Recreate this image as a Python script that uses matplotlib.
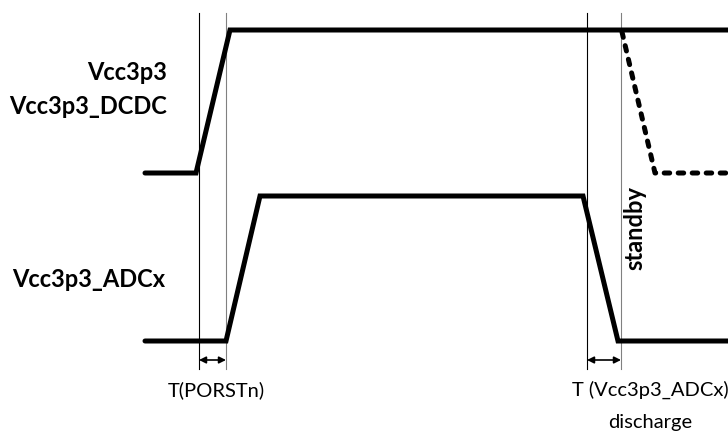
import matplotlib.pyplot as plt

# timing diagram, values in picture units (x to the right, y downwards)
dcdc_x = [145, 196, 230, 728]
dcdc_y = [174, 174, 31, 31]
standby_x = [622, 655, 728]
standby_y = [33, 174, 174]
adc_x = [145, 226, 260, 583, 618, 728]
adc_y = [342, 342, 197, 197, 342, 342]
markers_x = [199, 226, 587, 621]
marker_colors = ['black', 'gray', 'black', 'gray']
arrow_spans = [(199, 226), (587, 621)]

plt.rcParams['font.family'] = ['Lato', 'DejaVu Sans']
fig = plt.figure(figsize=(7.28, 4.39), dpi=100)
ax = fig.add_axes([0, 0, 1, 1])
ax.set_xlim(0, 728)
ax.set_ylim(439, 0)
ax.axis('off')

for x, c in zip(markers_x, marker_colors):
    ax.plot([x, x], [14, 370], color=c, lw=0.8)

ax.plot(dcdc_x, dcdc_y, color='black', lw=3.6, solid_joinstyle='miter', solid_capstyle='round')
ax.plot(adc_x, adc_y, color='black', lw=3.6, solid_joinstyle='miter', solid_capstyle='round')
ax.plot(standby_x, standby_y, color='black', lw=3.6, ls=(0, (1.1, 1.7)),
        dash_capstyle='round', dash_joinstyle='round')

for x0, x1 in arrow_spans:
    ax.annotate('', xy=(x0, 361), xytext=(x1, 361),
                arrowprops=dict(arrowstyle='<|-|>', color='black', lw=1.2,
                                shrinkA=0, shrinkB=0, mutation_scale=10))

ax.text(167, 73, 'Vcc3p3', ha='right', va='center', fontsize=17, fontweight='bold')
ax.text(167, 107, 'Vcc3p3_DCDC', ha='right', va='center', fontsize=17, fontweight='bold')
ax.text(165, 280, 'Vcc3p3_ADCx', ha='right', va='center', fontsize=17, fontweight='bold')
ax.text(635, 228, 'standby', ha='center', va='center', fontsize=17, fontweight='bold', rotation=90)
ax.text(216, 390, 'T(PORSTn)', ha='center', va='center', fontsize=14.5)
ax.text(650, 390, 'T (Vcc3p3_ADCx)', ha='center', va='center', fontsize=14.5)
ax.text(650, 423, 'discharge', ha='center', va='center', fontsize=14.5)

plt.savefig('out.png', dpi=100)
